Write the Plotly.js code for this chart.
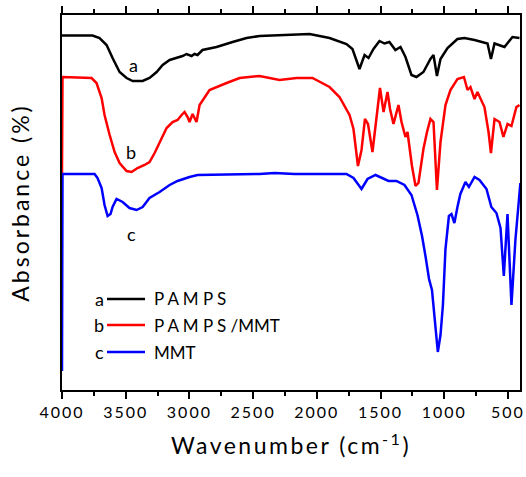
<!DOCTYPE html>
<html>
<head>
<meta charset="utf-8">
<script src="https://cdn.plot.ly/plotly-3.0.1.min.js"></script>
<style>
  html, body { margin: 0; padding: 0; background: #fff; }
  #chart { width: 526px; height: 477px; }
  .xtick text { letter-spacing: 2px; }
  text.xtitle { letter-spacing: 2.5px; }
  text.ytitle { letter-spacing: 3px; }
</style>
</head>
<body>
<div id="chart"></div>
<script>
// Wavenumber (cm^-1) and absorbance (arbitrary units, offset curves)
const wnA = [4000,3760,3705,3650,3603,3548,3493,3445,3367,3313,3257,3210,3155,3101,3054,3022,2983,2960,2936,2897,2787,2661,2551,2449,2253,2057,1900,1767,1720,1665,1625,1594,1555,1508,1469,1430,1383,1343,1304,1257,1218,1163,1108,1084,1057,1029,974,896,841,762,660,633,605,527,464,409];
const absA = [354.5,354.5,352,345,332,318,312,309,309,312,318,325,330,332,334,336,334,336,335,340,343,348,352,354,355,356,352,346,341,321,335,332,341,349,346.5,348,340,343,333,315,313,318,331,335,314,331,342,351,352,350,346.5,331,346.5,343,353,352];

const wnB = [4000,3996,3768,3729,3689,3666,3626,3587,3548,3493,3454,3407,3352,3313,3273,3234,3179,3132,3093,3061,3038,3014,2999,2975,2944,2920,2865,2842,2708,2606,2449,2292,2159,2034,1900,1822,1743,1712,1677,1649,1622,1598,1563,1535,1504,1476,1445,1425,1398,1359,1335,1304,1288,1253,1225,1202,1163,1135,1108,1084,1057,1029,990,951,896,845,817,794,762,739,684,652,633,605,566,535,503,472,433,409];
const absB = [217,313,312,307,292,275,255,238,227,219,218,222,225,228,237,247,262,268,270,275,278,273,268,276,268,285,295,300,307,312,314,310,312,312,303,293,275,261,224,240,271,266,238,271,302,278,298,281,266,285,268,253,258,224,204,207,241,258,271,268,200,248,285,300,311,313,300,303,291,298,283,258,237,271,268,253,266,264,283,285];

const wnC = [4000,3996,3744,3721,3689,3666,3642,3619,3603,3572,3524,3470,3415,3367,3313,3273,3234,3155,3093,2999,2936,2449,2332,2175,1767,1712,1649,1602,1539,1437,1375,1312,1257,1210,1174,1147,1119,1096,1072,1050,1029,1010,990,963,943,920,896,873,833,806,762,723,668,630,590,558,532,503,472,441,402];
const absC = [19,216,216,212,202,185,174,176,183,191,188,182,180,183,192,195,198,205,209,213,215,216,217,216,216,212,201,211,215,209,209,205,195,175,154,134,111,100,70,38,55,85,141,174,176,167,183,196,208,203,213,210,201,183,177,162,114,176,85,150,207];

const seriesNames = ["P A M P S", "P A M P S /MMT", "MMT"];
const seriesLetters = ["a", "b", "c"];
const seriesColors = ["#000000", "#ff0000", "#0000ff"];
const xTicks = [4000, 3500, 3000, 2500, 2000, 1500, 1000, 500];

const FONT = "Lato, 'Open Sans', sans-serif";

const traces = [
  {x: wnA, y: absA},
  {x: wnB, y: absB},
  {x: wnC, y: absC}
].map((t, i) => ({
  x: t.x, y: t.y, type: "scatter", mode: "lines",
  name: seriesNames[i],
  line: {color: seriesColors[i], width: 2.5, shape: "linear"},
  showlegend: false, hoverinfo: "skip"
}));

// curve labels (placed beside each curve's O-H band)
const curveLabelPos = [[3438, 325], [3462, 238], [3454, 156]];
const annotations = curveLabelPos.map((p, i) => ({
  x: p[0], y: p[1], xref: "x", yref: "y", text: seriesLetters[i],
  showarrow: false, font: {family: FONT, size: 18, color: "#000"}
}));

// legend (letter, line sample, name)
const legY = [0.2427, 0.1733, 0.1013];
const shapes = [];
legY.forEach((yy, i) => {
  annotations.push({x: 0.0808, y: yy, xref: "paper", yref: "paper", text: seriesLetters[i],
    showarrow: false, xanchor: "center", yanchor: "middle",
    font: {family: FONT, size: 18, color: "#000"}});
  annotations.push({x: 0.1965, y: yy, xref: "paper", yref: "paper", text: seriesNames[i],
    showarrow: false, xanchor: "left", yanchor: "middle",
    font: {family: FONT, size: 17, color: "#000"}});
  shapes.push({type: "line", xref: "paper", yref: "paper", x0: 0.0983, x1: 0.1812, y0: yy, y1: yy,
    line: {color: seriesColors[i], width: 2.5}});
});

const layout = {
  width: 526, height: 477,
  margin: {l: 62, r: 6, t: 15, b: 87},
  paper_bgcolor: "#fff", plot_bgcolor: "#fff",
  showlegend: false,
  font: {family: FONT, color: "#000"},
  xaxis: {
    range: [4000, 405], autorange: false,
    tickvals: xTicks, ticktext: xTicks.map(String),
    ticks: "outside", ticklen: 7, tickwidth: 2, tickcolor: "#000",
    minor: {dtick: 250, tick0: 0, ticks: "outside", ticklen: 4, tickwidth: 2, tickcolor: "#000"},
    showline: true, linewidth: 2, linecolor: "#000", mirror: "ticks",
    showgrid: false, zeroline: false,
    tickfont: {family: FONT, size: 16, color: "#000"},
    title: {text: "Wavenumber (cm<sup>-1</sup>)", font: {family: FONT, size: 23, color: "#000"}, standoff: 18}
  },
  yaxis: {
    range: [0, 375], autorange: false,
    showticklabels: false, ticks: "",
    showline: true, linewidth: 2, linecolor: "#000", mirror: true,
    showgrid: false, zeroline: false,
    title: {text: "Absorbance (%)", font: {family: FONT, size: 23, color: "#000"}, standoff: 24}
  },
  annotations: annotations,
  shapes: shapes
};

Plotly.newPlot("chart", traces, layout, {displayModeBar: false, staticPlot: true});
</script>
</body>
</html>
